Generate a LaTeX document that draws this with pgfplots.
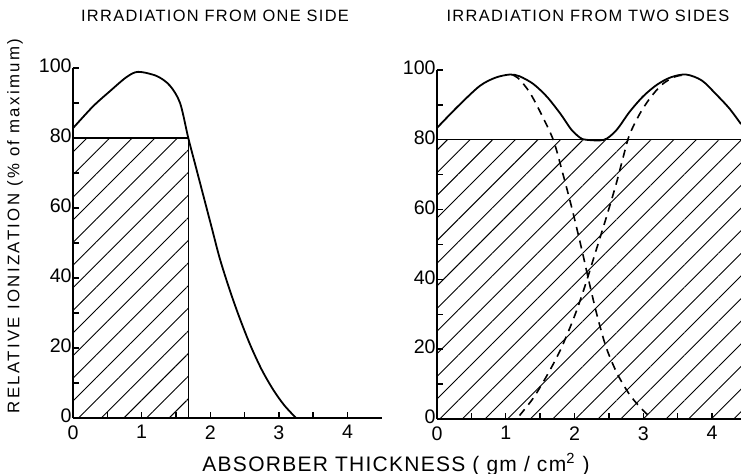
\documentclass[border=0pt]{standalone}
\usepackage{fontspec}
\setmainfont{Liberation Sans}
\newfontfamily\titlefont[LetterSpace=8]{Liberation Sans}
\newfontfamily\ylabfont[LetterSpace=14]{Liberation Sans}
\newfontfamily\xlabfont[LetterSpace=6]{Liberation Sans}
\usepackage{pgfplots}
\pgfplotsset{compat=1.18}
\usetikzlibrary{patterns.meta}

\pgfplotsset{
  panel/.style={
    scale only axis, anchor=origin,
    axis x line=bottom, axis y line=left,
    axis line style={-, line width=0.9pt},
    xmin=0, ymin=0, ymax=100,
    xtick={0,1,2,3,4}, minor xtick={0.5,1.5,2.5,3.5},
    ytick={0,20,...,100}, minor ytick={10,30,50,70,90},
    tick align=inside, major tick length=3pt, minor tick length=3pt,
    every tick/.style={black, line width=0.7pt},
    ticklabel style={font=\fontsize{9.8}{11}\selectfont},
    /pgf/number format/assume math mode=true,
    yticklabel style={inner xsep=0.5pt, yshift=1pt},
    xticklabel style={inner ysep=3.5pt},
    clip=false,
  },
  hatch/.style={draw=none, pattern={Lines[angle=45,distance=8pt,line width=0.45pt]}},
  curve/.style={black, line width=0.9pt, smooth, tension=0.5},
  dashcurve/.style={curve, dash pattern=on 4pt off 3pt, line width=0.8pt},
}

\begin{document}
\begin{tikzpicture}
\path[use as bounding box] (0,0) rectangle (370.5pt,237pt);

% one side
\begin{axis}[panel, at={(36.5pt,28pt)}, width=154.4pt, height=175pt, xmax=4.5]
  \addplot[hatch] coordinates {(0,0) (0,80) (1.68,80) (1.68,0)} \closedcycle;
  \addplot[black, line width=0.7pt] coordinates {(0,80) (1.68,80) (1.68,0)};
  \addplot[curve] coordinates {
    (0,82.8) (0.29,89) (0.54,93.4) (0.78,97.4) (0.95,98.9) (1.22,97.7)
    (1.41,95) (1.56,90) (1.68,80) (1.78,72.5) (1.9,63.5) (2.02,54.5)
    (2.14,45.5) (2.28,36.8) (2.42,29) (2.58,21) (2.75,13.8) (2.92,8)
    (3.08,3.6) (3.25,0)
  };
\end{axis}

% two sides
\begin{axis}[panel, at={(218.5pt,27.5pt)}, width=152pt, height=174.5pt, xmax=4.42]
  \addplot[hatch] coordinates {(0,0) (0,80) (4.42,80) (4.42,0)} \closedcycle;
  \addplot[black, line width=0.7pt] coordinates {(0,80) (4.42,80)};
  \addplot[dashcurve] coordinates {
    (1.1,98.6) (1.2,97.3) (1.35,93.5) (1.5,88) (1.69,80) (1.82,71) (1.96,60.5)
    (2.1,49) (2.22,38.5) (2.33,29.5) (2.46,20.5) (2.62,13) (2.8,7) (2.97,3) (3.13,0)
  };
  \addplot[dashcurve] coordinates {
    (1.2,1) (1.4,6) (1.6,12.5) (1.8,20) (2.0,29.5) (2.15,38) (2.3,47.5) (2.45,57)
    (2.6,67) (2.72,76) (2.8,81.5) (2.95,87.5) (3.1,92) (3.27,95.8) (3.45,98) (3.6,98.6)
  };
  \addplot[curve] coordinates {
    (0,83.4) (0.3,89.5) (0.62,95.4) (0.85,97.8) (1.06,98.7) (1.2,98.2)
    (1.4,96) (1.6,92.3) (1.8,87.3) (1.95,83) (2.08,80.6) (2.17,80) (2.43,80)
    (2.61,82.8) (2.8,88) (3.0,92.5) (3.2,95.8) (3.4,97.9) (3.62,98.7) (3.85,97)
    (4.06,93) (4.25,89) (4.42,84.5)
  };
\end{axis}

\node[font=\titlefont\fontsize{8.2}{10}\selectfont] at (107.5pt,229pt) {IRRADIATION FROM ONE SIDE};
\node[font=\titlefont\fontsize{8.2}{10}\selectfont] at (294pt,229pt) {IRRADIATION FROM TWO SIDES};
\node[font=\ylabfont\fontsize{8.4}{10}\selectfont, rotate=90] at (7.5pt,124pt) {RELATIVE IONIZATION (\% of maximum)};
\node[font=\xlabfont\fontsize{10.5}{12}\selectfont] at (198pt,4.5pt) {ABSORBER THICKNESS ( gm / cm\textsuperscript{2} )};
\end{tikzpicture}
\end{document}
